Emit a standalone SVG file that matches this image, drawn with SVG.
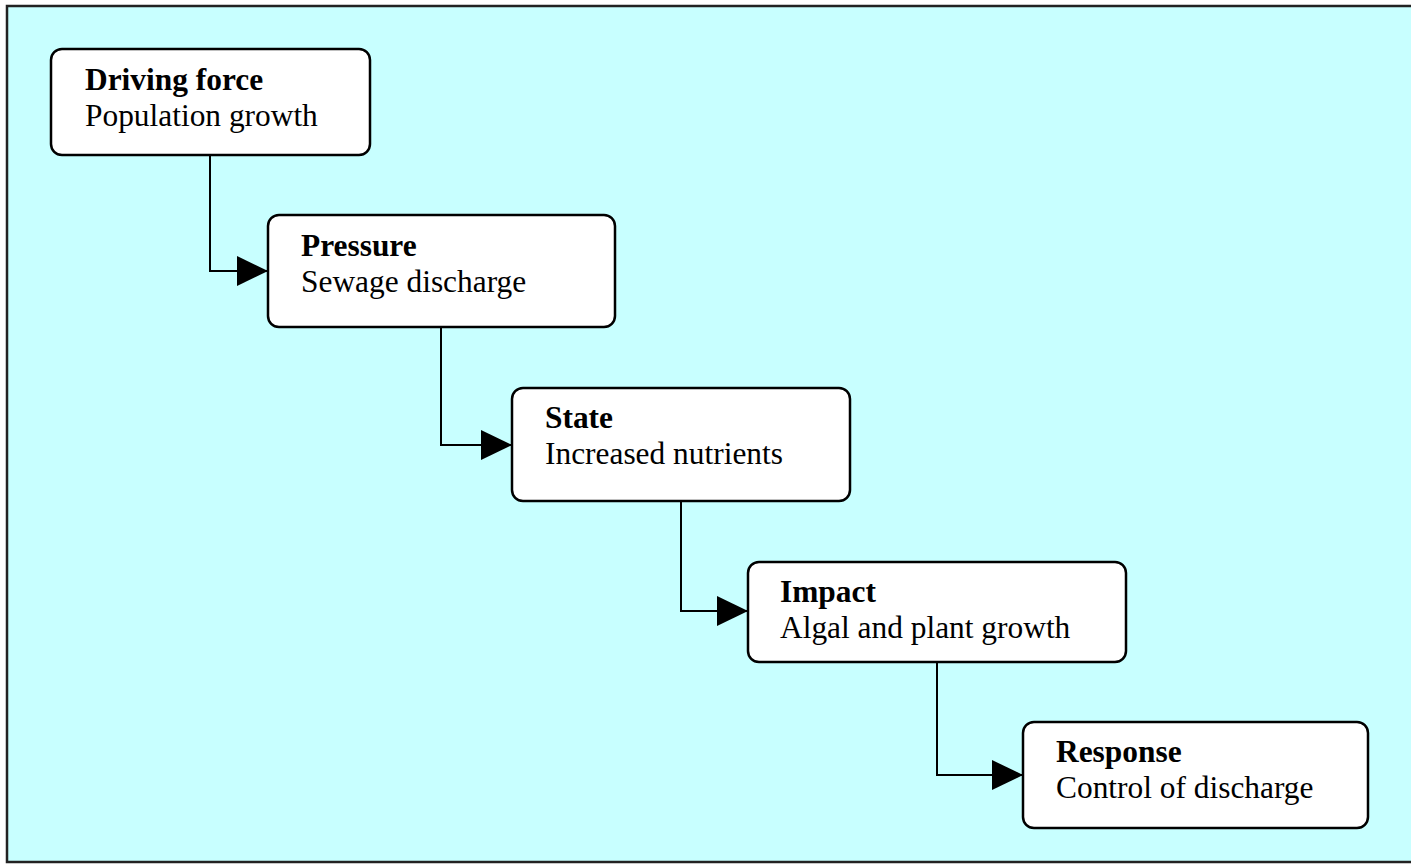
<svg xmlns="http://www.w3.org/2000/svg" width="1411" height="865" viewBox="0 0 1411 865">
<defs>
<style>
.box{fill:#ffffff;stroke:#000;stroke-width:2.5}
.t{font-family:"Liberation Serif","Times New Roman",serif;font-size:31.4px;fill:#000}
.b{font-weight:bold}
.c{fill:none;stroke:#000;stroke-width:2}
</style>
<marker id="ah" markerUnits="userSpaceOnUse" markerWidth="32" markerHeight="32" refX="31" refY="16" orient="auto">
<path d="M0,1 L31,16 L0,31 Z" fill="#000"/>
</marker>
</defs>
<rect x="7" y="6" width="1410" height="856" fill="#c8ffff" stroke="#222" stroke-width="2.5"/>
<g id="connectors">
<path class="c" d="M210,155 V271 H268" marker-end="url(#ah)"/>
<path class="c" d="M441,327 V445 H512" marker-end="url(#ah)"/>
<path class="c" d="M681,501 V611 H748" marker-end="url(#ah)"/>
<path class="c" d="M937,662 V775 H1023" marker-end="url(#ah)"/>
</g>
<g id="driving">
<rect class="box" x="51" y="49" width="319" height="106" rx="11"/>
<text class="t b" x="85" y="90">Driving force</text>
<text class="t" x="85" y="126">Population growth</text>
</g>
<g id="pressure">
<rect class="box" x="268" y="215" width="347" height="112" rx="11"/>
<text class="t b" x="301" y="256">Pressure</text>
<text class="t" x="301" y="292">Sewage discharge</text>
</g>
<g id="state">
<rect class="box" x="512" y="388" width="338" height="113" rx="11"/>
<text class="t b" x="545" y="428">State</text>
<text class="t" x="545" y="464">Increased nutrients</text>
</g>
<g id="impact">
<rect class="box" x="748" y="562" width="378" height="100" rx="11"/>
<text class="t b" x="780" y="602">Impact</text>
<text class="t" x="780" y="638">Algal and plant growth</text>
</g>
<g id="response">
<rect class="box" x="1023" y="722" width="345" height="106" rx="11"/>
<text class="t b" x="1056" y="762">Response</text>
<text class="t" x="1056" y="798">Control of discharge</text>
</g>
</svg>
